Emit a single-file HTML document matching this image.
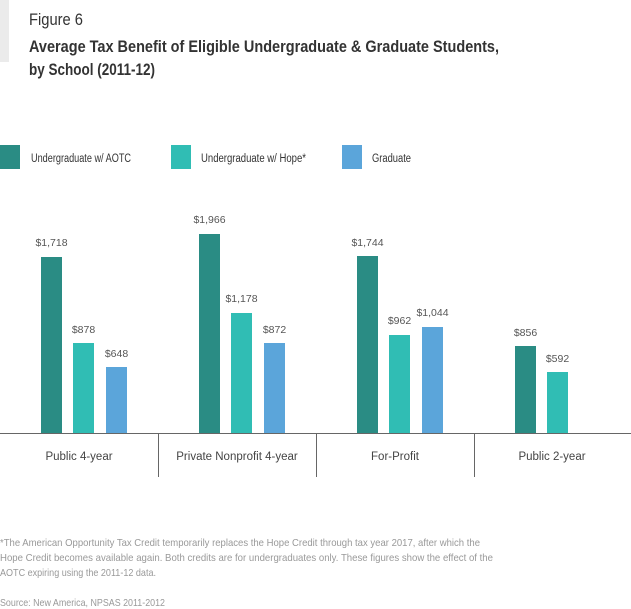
<!DOCTYPE html>
<html><head><meta charset="utf-8"><style>
html,body{margin:0;padding:0;background:#fff;}
svg{display:block;font-family:"Liberation Sans",sans-serif;}
</style></head><body>
<svg width="631" height="609" viewBox="0 0 631 609" xmlns="http://www.w3.org/2000/svg">
<rect x="0" y="0" width="9" height="62" fill="#ebebeb"/>
<text x="29" y="25" font-size="17" fill="#333" textLength="54" lengthAdjust="spacingAndGlyphs">Figure 6</text>
<text x="29" y="52" font-size="17" font-weight="bold" fill="#333" textLength="470" lengthAdjust="spacingAndGlyphs">Average Tax Benefit of Eligible Undergraduate &amp; Graduate Students,</text>
<text x="29" y="75" font-size="17" font-weight="bold" fill="#333" textLength="126" lengthAdjust="spacingAndGlyphs">by School (2011-12)</text>

<rect x="0" y="145" width="20" height="24" fill="#2a8c84"/>
<text x="31" y="162" font-size="11.5" fill="#333" textLength="100" lengthAdjust="spacingAndGlyphs">Undergraduate w/ AOTC</text>
<rect x="171" y="145" width="20" height="24" fill="#30bdb4"/>
<text x="201" y="162" font-size="11.5" fill="#333" textLength="105" lengthAdjust="spacingAndGlyphs">Undergraduate w/ Hope*</text>
<rect x="342" y="145" width="20" height="24" fill="#5ba5da"/>
<text x="372" y="162" font-size="11.5" fill="#333" textLength="39" lengthAdjust="spacingAndGlyphs">Graduate</text>

<g font-size="10.5" fill="#555" text-anchor="middle">
<rect x="41" y="257" width="21" height="176" fill="#2a8c84"/><text x="51.5" y="246">$1,718</text>
<rect x="73" y="343" width="21" height="90" fill="#30bdb4"/><text x="83.5" y="333">$878</text>
<rect x="106" y="367" width="21" height="66" fill="#5ba5da"/><text x="116.5" y="357">$648</text>

<rect x="199" y="234" width="21" height="199" fill="#2a8c84"/><text x="209.5" y="223">$1,966</text>
<rect x="231" y="313" width="21" height="120" fill="#30bdb4"/><text x="241.5" y="302">$1,178</text>
<rect x="264" y="343" width="21" height="90" fill="#5ba5da"/><text x="274.5" y="333">$872</text>

<rect x="357" y="256" width="21" height="177" fill="#2a8c84"/><text x="367.5" y="246">$1,744</text>
<rect x="389" y="335" width="21" height="98" fill="#30bdb4"/><text x="399.5" y="324">$962</text>
<rect x="422" y="327" width="21" height="106" fill="#5ba5da"/><text x="432.5" y="316">$1,044</text>

<rect x="515" y="346" width="21" height="87" fill="#2a8c84"/><text x="525.5" y="336">$856</text>
<rect x="547" y="372" width="21" height="61" fill="#30bdb4"/><text x="557.5" y="362">$592</text>
</g>

<line x1="0" y1="433.5" x2="631" y2="433.5" stroke="#666" stroke-width="1"/>
<g stroke="#666" stroke-width="1">
<line x1="158.5" y1="433" x2="158.5" y2="477"/>
<line x1="316.5" y1="433" x2="316.5" y2="477"/>
<line x1="474.5" y1="433" x2="474.5" y2="477"/>
</g>
<g font-size="11.5" fill="#444" text-anchor="middle">
<text x="79" y="460">Public 4-year</text>
<text x="237" y="460">Private Nonprofit 4-year</text>
<text x="395" y="460">For-Profit</text>
<text x="552" y="460">Public 2-year</text>
</g>

<g font-size="10.5" fill="#999">
<text x="0" y="546" textLength="480" lengthAdjust="spacingAndGlyphs">*The American Opportunity Tax Credit temporarily replaces the Hope Credit through tax year 2017, after which the</text>
<text x="0" y="561" textLength="493" lengthAdjust="spacingAndGlyphs">Hope Credit becomes available again. Both credits are for undergraduates only. These figures show the effect of the</text>
<text x="0" y="576" textLength="156" lengthAdjust="spacingAndGlyphs">AOTC expiring using the 2011-12 data.</text>
<text x="0" y="606" textLength="165" lengthAdjust="spacingAndGlyphs">Source: New America, NPSAS 2011-2012</text>
</g>
</svg>
</body></html>
